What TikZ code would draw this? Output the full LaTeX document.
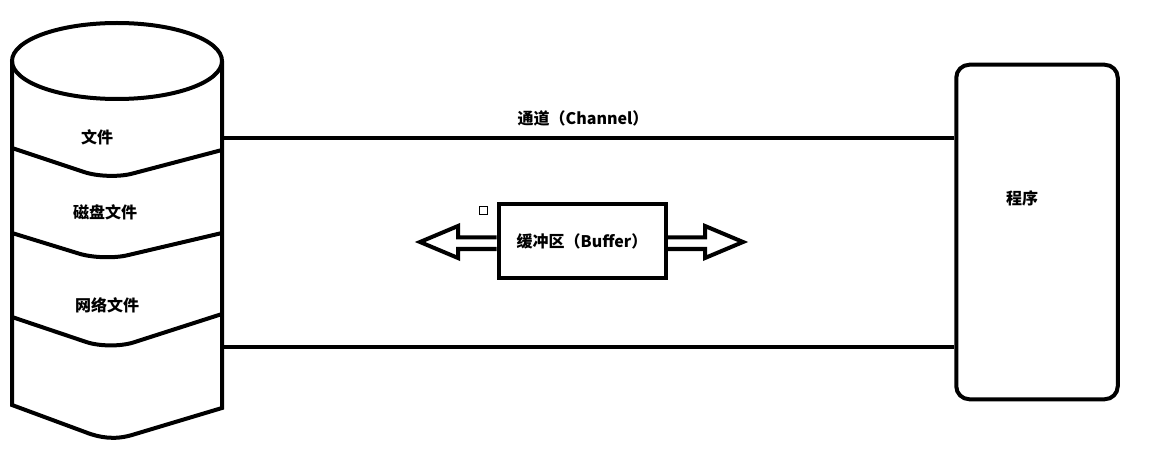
\documentclass[tikz,border=0pt]{standalone}
\usepackage{fontspec}
\usetikzlibrary{positioning}
\newfontfamily\cjk{Noto Sans CJK SC}

\begin{document}
\begin{tikzpicture}[x=1pt,y=-1pt,line width=4pt,
  lbl/.style={font=\cjk\bfseries\fontsize{16}{19}\selectfont,inner sep=0pt},
  box/.style={draw,line width=4pt,inner sep=0pt}]
\useasboundingbox (0,0) rectangle (1158,454);
% 文件柱体
\draw (117,61) ellipse [x radius=105pt,y radius=38pt];
\draw (12,61) -- (12,405) -- (85,432) .. controls (100,438) and (115,440) .. (132,435) -- (222,408) -- (222,61);
\draw[rounded corners=25pt] (12,148) -- (108,180) -- (222,150);
\draw[rounded corners=25pt] (12,233) -- (103,261) -- (222,233);
\draw[rounded corners=25pt] (12,317) -- (110,350) -- (222,314);
\node[lbl](f1) at (97,137){文件};
\node[lbl](f2) at (105,212){磁盘文件};
\node[lbl](f3) at (107,305){网络文件};
% 程序
\node[box,rounded corners=13pt,minimum width=161.5pt,minimum height=334.5pt](prog) at (1037,232){};
\node[lbl](progl) at (1022,198){程序};
% 通道
\coordinate (ch1) at (222,138);
\coordinate (ch2) at (222,347);
\draw (ch1) -- (ch1 -| prog.west);
\draw (ch2) -- (ch2 -| prog.west);
\node[lbl](chl) at (583,118){通道（Channel）};
% 缓冲区
\node[box,lbl,minimum width=167pt,minimum height=74pt](buf) at (582,241){缓冲区（Buffer）};
\draw (buf.west |- 0,237.5) -- (458,237.5) -- (458,226) -- (420,242) -- (458,258) -- (458,249) -- (buf.west |- 0,249);
\draw (buf.east |- 0,237.5) -- (705,237.5) -- (705,226) -- (743,242) -- (705,258) -- (705,249) -- (buf.east |- 0,249);
\draw[line width=1pt] (479,207) rectangle (487,215);
\end{tikzpicture}
\end{document}
